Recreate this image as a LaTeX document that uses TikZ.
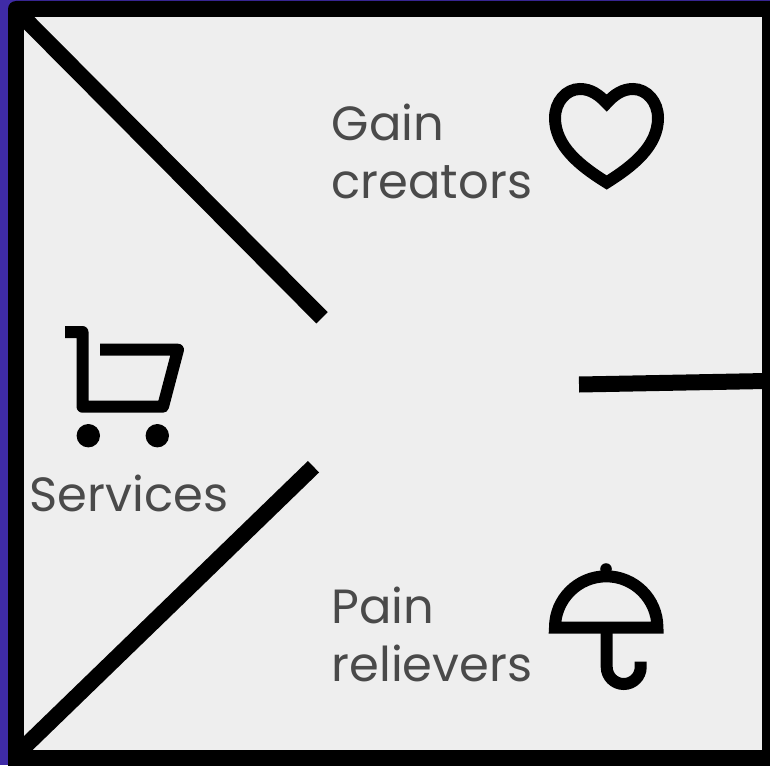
\documentclass[tikz,border=0pt]{standalone}
\usepackage{fontspec}
\setmainfont{Poppins}
\definecolor{bgpurple}{HTML}{3F2BA6}
\definecolor{panel}{HTML}{EEEEEE}
\definecolor{txt}{HTML}{4A4A4A}
\tikzset{
  divider/.style={line width=16pt,black,line cap=butt},
  icon/.style={line width=12pt,black},
  label/.style={text=txt,font=\fontsize{48}{58}\selectfont,inner sep=0pt,align=left,anchor=base west},
}
\begin{document}
\begin{tikzpicture}[x=1pt,y=-1pt]
\useasboundingbox (0,0) rectangle (770,765);
\fill[bgpurple] (0,0) rectangle (770,765);
% frame
\fill[black,rounded corners=8pt] (8,1) rectangle (790,785);
\fill[panel] (24,17) rectangle (762,750);
% dividers
\coordinate (tl) at (20,14);
\coordinate (tlend) at (322,317.8);
\coordinate (bl) at (18,753);
\coordinate (blend) at (313.5,466.7);
\coordinate (rs) at (579,384.5);
\coordinate (re) at (766,381);
\draw[divider] (tl) -- (tlend);
\draw[divider] (bl) -- (blend);
\draw[divider] (rs) -- (re);
% heart
\draw[icon,line join=miter,miter limit=10] (606.7,103)
  .. controls (599,95) and (591,89) .. (580,89)
  .. controls (566,89) and (555,102) .. (555,118)
  .. controls (555,146) and (580,166) .. (606.7,182.5)
  .. controls (633,166) and (658,146) .. (658,118)
  .. controls (658,102) and (647,89) .. (633,89)
  .. controls (622,89) and (614,95) .. (606.7,103) -- cycle;
% cart
\draw[icon,line join=round] (65,332) -- (82.5,332) -- (82.5,406.7) -- (163,406.7) -- (178,349.7) -- (100,349.7);
\fill (88.3,435.7) circle (11.7pt);
\fill (157.3,435.7) circle (11.7pt);
% umbrella
\draw[icon,line join=miter] (555,627.5) arc[start angle=180,end angle=360,radius=51.2] -- cycle;
\fill (606,569) circle (5.8pt);
\draw[icon] (606.7,627.5) -- (606.7,667) arc[start angle=180,end angle=0,radius=17] -- (640.7,661.5);
% labels
\node[label] (gain) at (331.5,198.5) {Gain\\creators};
\node[label] (services) at (29.5,511.5) {Services};
\node[label] (pain) at (331.5,681) {Pain\\relievers};
\end{tikzpicture}
\end{document}
